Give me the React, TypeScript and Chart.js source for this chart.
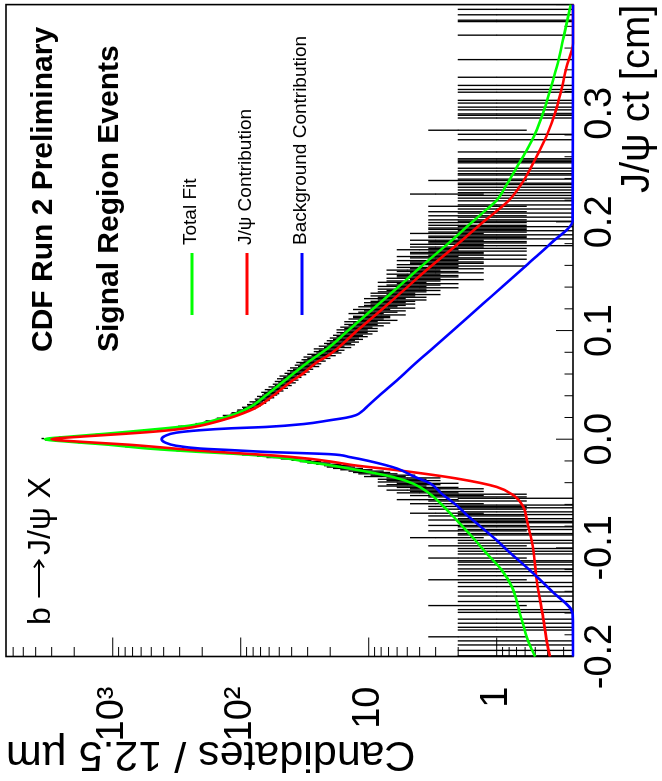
import React, { useEffect, useRef } from "react";
import { Chart, registerables } from "chart.js";
Chart.register(...registerables);

const FONT = '"Liberation Sans", Arial, Helvetica, sans-serif';

// Histogram: J/psi ct, 12.5 um bins from -0.2 cm
const histLow = -0.2;
const binWidth = 0.00125;
const counts: number[] = [
  1,0,0,0,1,0,0,0,1,0,
  0,1,0,0,2,0,0,0,0,1,
  0,1,0,0,1,0,0,1,0,0,
  0,0,1,0,1,0,0,2,0,0,
  1,0,0,0,1,0,0,1,0,0,
  0,1,0,0,1,0,2,0,0,1,
  0,0,1,0,1,0,0,1,0,1,
  1,0,2,0,0,1,0,1,0,1,
  0,2,0,1,0,1,0,3,0,1,
  1,0,2,1,0,1,2,0,1,1,
  2,1,0,2,1,3,1,0,2,1,
  2,1,3,0,2,4,1,2,3,2,
  4,3,5,3,4,6,5,4,6,5,
  6,5,8,7,9,10,11,13,15,17,
  18,21,25,29,34,42,55,66,88,118,
  195,300,410,600,770,990,1340,1820,2530,3300,
  3520,2560,1730,1320,960,770,550,450,330,290,
  228,210,180,174,146,141,124,126,109,107,
  97,96,86,88,79,80,72,76,68,69,
  63,66,60,58,61,54,57,50,53,47,
  49,44,47,42,45,40,43,37,39,35,
  37,33,35,30,32,29,31,27,28,25,
  27,23,25,21,22,20,22,18,20,17,
  18,16,17,15,16,14,15,13,14,12,
  14,12,13,11,12,10,12,9,11,10,
  10,8,11,9,8,10,7,9,8,7,
  8,7,6,8,6,7,5,7,6,5,
  6,4,6,5,4,6,5,3,5,4,
  4,5,3,4,5,3,4,2,4,3,
  3,4,2,3,4,2,3,3,2,4,
  2,3,1,3,2,2,3,1,2,2,
  1,3,2,1,2,2,1,2,0,2,
  1,2,0,1,2,0,1,2,0,1,
  0,2,1,0,0,1,0,1,0,1,
  3,1,0,1,0,1,0,1,1,0,
  2,1,0,0,1,1,0,1,0,1,
  0,0,0,1,1,1,1,0,0,0,
  0,1,0,0,0,0,0,0,0,0,
  1,0,0,0,1,0,0,2,0,0,
  0,0,0,0,0,0,1,0,1,1,
  0,0,1,0,1,0,0,1,0,1,
  0,0,0,0,0,1,0,1,0,0,
  1,0,0,0,0,0,1,0,0,0,
  0,0,0,0,0,0,0,0,0,1,
  0,0,0,0,0,0,0,0,0,0,
  0,0,0,0,0,0,0,1,0,0,
  0,0,0,0,0,0,0,1,1,0,
  0,0,1,0,0,0,1,0,0,0,
];

// Total fit (green)
const totalCt = [-0.2,-0.19,-0.18,-0.16,-0.136,-0.12,-0.105,-0.09,-0.0746,-0.06,-0.05,-0.0408,-0.0347,-0.0285,-0.024,-0.0209,-0.0178,-0.015,-0.0132,-0.0117,-0.01,-0.0086,-0.0075,-0.005,-0.0025,0,0.0025,0.005,0.0075,0.01,0.0125,0.0144,0.0175,0.0221,0.0297,0.04,0.0543,0.07,0.085,0.1,0.12,0.14,0.16,0.18,0.2,0.21,0.22,0.235,0.25,0.265,0.2815,0.3,0.32,0.3425,0.37,0.4];
const totalFit = [0.5,0.55,0.59,0.66,0.76,0.92,1.2,1.55,2.05,2.7,3.35,4.5,6.5,12,20,30,43,72,120,210,360,530,670,1100,2100,3400,2100,1140,660,390,250,203,160,117,84,64,45,30.5,20.2,14.5,9.25,5.9,3.8,2.4,1.55,1.24,1.0,0.83,0.70,0.59,0.50,0.435,0.385,0.34,0.30,0.264];

// J/psi contribution (red)
const jpsiCt = [-0.2,-0.19,-0.16,-0.13,-0.1,-0.0868,-0.075,-0.0623,-0.0516,-0.0439,-0.0362,-0.0285,-0.024,-0.0209,-0.0178,-0.015,-0.0132,-0.0117,-0.01,-0.0086,-0.0075,-0.005,-0.0025,0,0.0025,0.005,0.0075,0.01,0.0125,0.0144,0.0175,0.0221,0.0297,0.04,0.0543,0.06,0.07,0.0783,0.1,0.12,0.14,0.1587,0.18,0.2,0.21,0.22,0.235,0.25,0.265,0.2815,0.3,0.32,0.3425,0.3646,0.4];
const jpsiFit = [0.384,0.4,0.44,0.487,0.52,0.55,0.58,0.62,0.74,1.0,2.05,6.0,13,19,30,55,95,150,240,330,420,760,1700,3000,1700,800,420,270,205,175,140,105,74,56,39,33,26,20,12.3,7.8,5.0,3.3,2.0,1.27,1.0,0.80,0.64,0.54,0.465,0.40,0.35,0.315,0.285,0.2535,0];

// Background contribution (blue)
const bkgCt = [-0.2,-0.1605,-0.14,-0.1206,-0.105,-0.093,-0.08,-0.07,-0.06,-0.05,-0.0408,-0.034,-0.027,-0.02,-0.0165,-0.0138,-0.0117,-0.01,-0.0086,-0.006,-0.003,0,0.003,0.006,0.0083,0.01,0.0113,0.014,0.0175,0.0198,0.0221,0.026,0.03,0.04,0.0543,0.07,0.085,0.1,0.125,0.14,0.163,0.18,0.2017,0.4];
const bkgFit = [0,0.255,0.37,0.55,0.78,1.0,1.35,1.7,2.1,2.7,3.3,4.5,6.0,10,14,20,63,120,207,320,390,415,390,320,207,120,63,32,20,15,12.6,11.2,10.3,8.3,6.0,4.3,3.07,2.2,1.27,0.91,0.55,0.38,0.255,0];

const ctRange = [-0.2, 0.4];
const nRange = [0.2535, 6823];
const ctTicks = [-0.2, -0.1, 0, 0.1, 0.2, 0.3, 0.4];
const ctTickLabels = ["-0.2", "-0.1", "0.0", "0.1", "0.2", "0.3", ""];
const nTicks = [1, 10, 100, 1000];
const nTickLabels = ["1", "10", "10\u00b2", "10\u00b3"];

const legendLabels = ["Total Fit", "J/\u03c8 Contribution", "Background Contribution"];
const legendColors = ["#00ff00", "#ff0000", "#0000ff"];

function ctMinor(): number[] {
  const out: number[] = [];
  for (let k = 0; k <= 30; k++) out.push(-0.2 + 0.02 * k);
  return out;
}
function nMinor(): number[] {
  const out: number[] = [];
  for (let d = -1; d <= 3; d++) {
    for (let m = 2; m <= 9; m++) {
      const v = m * Math.pow(10, d);
      if (v >= nRange[0] && v <= nRange[1]) out.push(v);
    }
  }
  return out;
}

const overlayPlugin = {
  id: "rootFrame",
  beforeDatasetsDraw(chart: any) {
    const { ctx, chartArea: a, scales } = chart;
    const x = scales.x, y = scales.y;
    ctx.save();
    ctx.strokeStyle = "#000";
    ctx.lineWidth = 1;
    ctx.beginPath();
    for (const v of ctMinor()) {
      const px = x.getPixelForValue(v);
      const major = ctTicks.some((t) => Math.abs(t - v) < 1e-6);
      ctx.moveTo(px, a.bottom);
      ctx.lineTo(px, a.bottom - (major ? 17 : 8.5));
    }
    for (const v of nTicks) {
      const py = y.getPixelForValue(v);
      ctx.moveTo(a.left, py);
      ctx.lineTo(a.left + 19, py);
    }
    for (const v of nMinor()) {
      const py = y.getPixelForValue(v);
      ctx.moveTo(a.left, py);
      ctx.lineTo(a.left + 9.5, py);
    }
    ctx.stroke();
    ctx.lineWidth = 1.6;
    ctx.strokeRect(a.left, a.top, a.right - a.left, a.bottom - a.top);
    ctx.restore();
  },
  afterDatasetsDraw(chart: any) {
    const { ctx, chartArea: a } = chart;
    ctx.save();
    ctx.fillStyle = "#000";
    ctx.textAlign = "left";
    ctx.textBaseline = "alphabetic";
    ctx.font = `bold 30px ${FONT}`;
    ctx.fillText("CDF Run 2 Preliminary", a.left + 304.5, a.top + 46);
    ctx.fillText("Signal Region Events", a.left + 304.5, a.top + 112);
    // b -> J/psi X
    ctx.font = `32px ${FONT}`;
    ctx.fillText("b", a.left + 31.5, a.top + 44);
    ctx.fillText("J/\u03c8 X", a.left + 101.5, a.top + 44);
    ctx.strokeStyle = "#000";
    ctx.lineWidth = 2;
    const ay = a.top + 33;
    const ax0 = a.left + 59, ax1 = a.left + 96;
    ctx.beginPath();
    ctx.moveTo(ax0, ay);
    ctx.lineTo(ax1, ay);
    ctx.moveTo(ax1 - 7, ay - 5);
    ctx.lineTo(ax1, ay);
    ctx.lineTo(ax1 - 7, ay + 5);
    ctx.stroke();
    ctx.font = `19px ${FONT}`;
    ctx.textBaseline = "middle";
    legendLabels.forEach((lab, i) => {
      const ly = a.top + 186 + 55 * i;
      ctx.strokeStyle = legendColors[i];
      ctx.lineWidth = 3;
      ctx.beginPath();
      ctx.moveTo(a.left + 341.5, ly);
      ctx.lineTo(a.left + 403.5, ly);
      ctx.stroke();
      ctx.fillText(lab, a.left + 411.5, ly - 1);
    });
    ctx.restore();
  },
};

export default function App() {
  const ref = useRef<HTMLCanvasElement | null>(null);
  useEffect(() => {
    if (!ref.current) return;
    const bars: any[] = [];
    const centers: any[] = [];
    counts.forEach((n, i) => {
      if (n <= 0) return;
      const c = histLow + (i + 0.5) * binWidth;
      const e = Math.sqrt(n);
      bars.push({ x: c, y: [Math.max(n - e, 1e-3), n + e] });
      centers.push({ x: c, y: n });
    });
    const curve = (xs: number[], ys: number[]) =>
      xs.map((xv, i) => ({ x: xv, y: Math.max(ys[i], nRange[0]) }));
    const lineDs = (label: string, data: any[], color: string, order: number) => ({
      type: "line",
      label,
      data,
      borderColor: color,
      backgroundColor: color,
      borderWidth: 2.6,
      pointRadius: 0,
      fill: false,
      cubicInterpolationMode: "monotone",
      clip: 2,
      order,
    });
    const chart = new Chart(ref.current, {
      type: "line",
      data: {
        datasets: [
          lineDs("Background Contribution", curve(bkgCt, bkgFit), "#0000ff", 1) as any,
          lineDs("J/\u03c8 Contribution", curve(jpsiCt, jpsiFit), "#ff0000", 2) as any,
          lineDs("Total Fit", curve(totalCt, totalFit), "#00ff00", 3) as any,
          {
            type: "bar",
            label: "data errors",
            data: bars,
            backgroundColor: "#000",
            borderWidth: 0,
            barThickness: 0.7,
            clip: 0,
            order: 10,
          } as any,
          {
            type: "scatter",
            label: "data",
            data: centers,
            pointStyle: "line",
            pointRadius: 0.6,
            borderWidth: 0.6,
            borderColor: "#000",
            showLine: false,
            clip: 0,
            order: 9,
          } as any,
        ],
      },
      options: {
        responsive: false,
        animation: false,
        devicePixelRatio: 1,
        layout: { padding: { left: 0, right: 4, top: 6, bottom: 0 } },
        plugins: { legend: { display: false }, tooltip: { enabled: false } },
        scales: {
          x: {
            type: "linear",
            min: ctRange[0],
            max: ctRange[1],
            offset: false,
            grid: { display: false },
            border: { display: false },
            afterBuildTicks: (s: any) => {
              s.ticks = ctTicks.map((v) => ({ value: v }));
            },
            afterFit: (s: any) => {
              s.height = 89;
              s.paddingLeft = 0;
              s.paddingRight = 0;
            },
            ticks: {
              autoSkip: false,
              maxRotation: 0,
              minRotation: 0,
              padding: -3,
              color: "#000",
              font: { family: FONT, size: 38 },
              callback: (_v: any, i: number) => ctTickLabels[i],
            },
            title: {
              display: true,
              text: "J/\u03c8 ct [cm]",
              align: "end",
              color: "#000",
              font: { family: FONT, size: 40 },
              padding: { top: 0, bottom: 0 },
            },
          },
          y: {
            type: "logarithmic",
            min: nRange[0],
            max: nRange[1],
            grid: { display: false },
            border: { display: false },
            afterBuildTicks: (s: any) => {
              s.ticks = nTicks.map((v) => ({ value: v }));
            },
            afterFit: (s: any) => {
              s.width = 124.5;
              s.paddingTop = 0;
              s.paddingBottom = 0;
            },
            ticks: {
              autoSkip: false,
              padding: 22,
              color: "#000",
              font: { family: FONT, size: 38 },
              callback: (_v: any, i: number) => nTickLabels[i],
            },
            title: {
              display: true,
              text: "Candidates / 12.5 \u00b5m",
              align: "end",
              color: "#000",
              font: { family: FONT, size: 43 },
              padding: { top: 1, bottom: 0 },
            },
          },
        },
      },
      plugins: [overlayPlugin],
    } as any);
    return () => chart.destroy();
  }, []);

  return (
    <div style={{ position: "absolute", left: 0, top: 0, width: 662, height: 781, overflow: "hidden", background: "#fff" }}>
      <div
        style={{
          position: "absolute",
          left: 0,
          top: 0,
          width: 781,
          height: 662,
          transformOrigin: "0 0",
          transform: "translateY(781px) rotate(-90deg)",
        }}
      >
        <canvas ref={ref} width={781} height={662} style={{ display: "block", width: 781, height: 662 }} />
      </div>
    </div>
  );
}
